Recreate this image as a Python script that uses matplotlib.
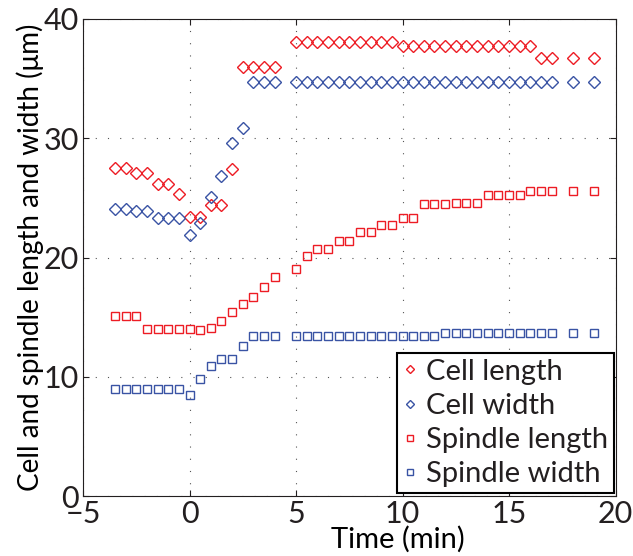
import matplotlib
matplotlib.use('Agg')
import matplotlib.pyplot as plt

# time points (min)
time = [-3.5, -3.0, -2.5, -2.0, -1.5, -1.0, -0.5, 0.0, 0.5, 1.0, 1.5, 2.0, 2.5, 3.0, 3.5, 4.0,
        5.0, 5.5, 6.0, 6.5, 7.0, 7.5, 8.0, 8.5, 9.0, 9.5, 10.0, 10.5, 11.0, 11.5, 12.0, 12.5,
        13.0, 13.5, 14.0, 14.5, 15.0, 15.5, 16.0, 16.5, 17.0, 18.0, 19.0]

cell_length = [27.5, 27.5, 27.1, 27.1, 26.2, 26.2, 25.3, 23.4, 23.4, 24.4, 24.4, 27.4, 36.0, 36.0, 36.0, 36.0,
               38.1, 38.1, 38.1, 38.1, 38.1, 38.1, 38.1, 38.1, 38.1, 38.1, 37.7, 37.7, 37.7, 37.7, 37.7, 37.7,
               37.7, 37.7, 37.7, 37.7, 37.7, 37.7, 37.7, 36.7, 36.7, 36.7, 36.7]

cell_width = [24.1, 24.1, 23.9, 23.9, 23.3, 23.3, 23.3, 21.9, 22.9, 25.1, 26.8, 29.6, 30.9, 34.7, 34.7, 34.7,
              34.7, 34.7, 34.7, 34.7, 34.7, 34.7, 34.7, 34.7, 34.7, 34.7, 34.7, 34.7, 34.7, 34.7, 34.7, 34.7,
              34.7, 34.7, 34.7, 34.7, 34.7, 34.7, 34.7, 34.7, 34.7, 34.7, 34.7]

spindle_length = [15.1, 15.1, 15.1, 14.0, 14.0, 14.0, 14.0, 14.0, 13.9, 14.1, 14.7, 15.4, 16.1, 16.7, 17.5, 18.4,
                  19.0, 20.1, 20.7, 20.7, 21.4, 21.4, 22.1, 22.1, 22.7, 22.7, 23.3, 23.3, 24.5, 24.5, 24.5, 24.6,
                  24.6, 24.6, 25.2, 25.2, 25.2, 25.2, 25.6, 25.6, 25.6, 25.6, 25.6]

spindle_width = [9.0, 9.0, 9.0, 9.0, 9.0, 9.0, 9.0, 8.5, 9.8, 10.9, 11.5, 11.5, 12.6, 13.4, 13.4, 13.4,
                 13.4, 13.4, 13.4, 13.4, 13.4, 13.4, 13.4, 13.4, 13.4, 13.4, 13.4, 13.4, 13.4, 13.4, 13.7, 13.7,
                 13.7, 13.7, 13.7, 13.7, 13.7, 13.7, 13.7, 13.7, 13.7, 13.7, 13.7]

red = '#ed1c24'
blue = '#3953a4'
ink = '#231f20'

plt.rcParams['font.family'] = ['Lato', 'DejaVu Sans']
plt.rcParams['text.color'] = ink
plt.rcParams['lines.scale_dashes'] = False

fig = plt.figure(figsize=(6.33, 5.56), dpi=100)
ax = fig.add_axes([83/633, 60/556, 532.5/633, 477/556])

ax.plot(time, cell_length, 'D', ms=6.0, mfc='none', mec=red, mew=1.0, label='Cell length')
ax.plot(time, cell_width, 'D', ms=6.0, mfc='none', mec=blue, mew=1.0, label='Cell width')
ax.plot(time, spindle_length, 's', ms=5.6, mfc='none', mec=red, mew=1.0, label='Spindle length')
ax.plot(time, spindle_width, 's', ms=5.6, mfc='none', mec=blue, mew=1.0, label='Spindle width')

ax.set_xlim(-5, 20)
ax.set_ylim(0, 40)
ax.set_xticks([-5, 0, 5, 10, 15, 20])
ax.set_yticks([0, 10, 20, 30, 40])
ax.set_xticklabels(['\u22125', '0', '5', '10', '15', '20'])

ax.grid(True, color='#555555', linestyle=(0, (0.8, 8)), linewidth=0.8)
ax.tick_params(direction='in', length=4, width=0.8, colors=ink, labelsize=22,
               top=True, right=True, pad=3)
for s in ax.spines.values():
    s.set_color(ink)
    s.set_linewidth(0.8)

ax.set_xlabel('Time (min)', fontsize=21)
ax.set_ylabel('Cell and spindle length and width (\u03bcm)', fontsize=20)
ax.xaxis.set_label_coords(0.592, -0.062)
ax.yaxis.set_label_coords(-0.074, 0.5)

leg = ax.legend(loc='lower right', bbox_to_anchor=(614.3/633, 63/556),
                bbox_transform=fig.transFigure, borderaxespad=0,
                fontsize=21, frameon=True, fancybox=False, markerscale=0.7,
                handlelength=0.5, handletextpad=0.3, labelspacing=0.28,
                borderpad=0.2, numpoints=1)
leg.get_frame().set_edgecolor('black')
leg.get_frame().set_linewidth(1.5)
leg.get_frame().set_alpha(1)

fig.savefig('out.png', dpi=100)
